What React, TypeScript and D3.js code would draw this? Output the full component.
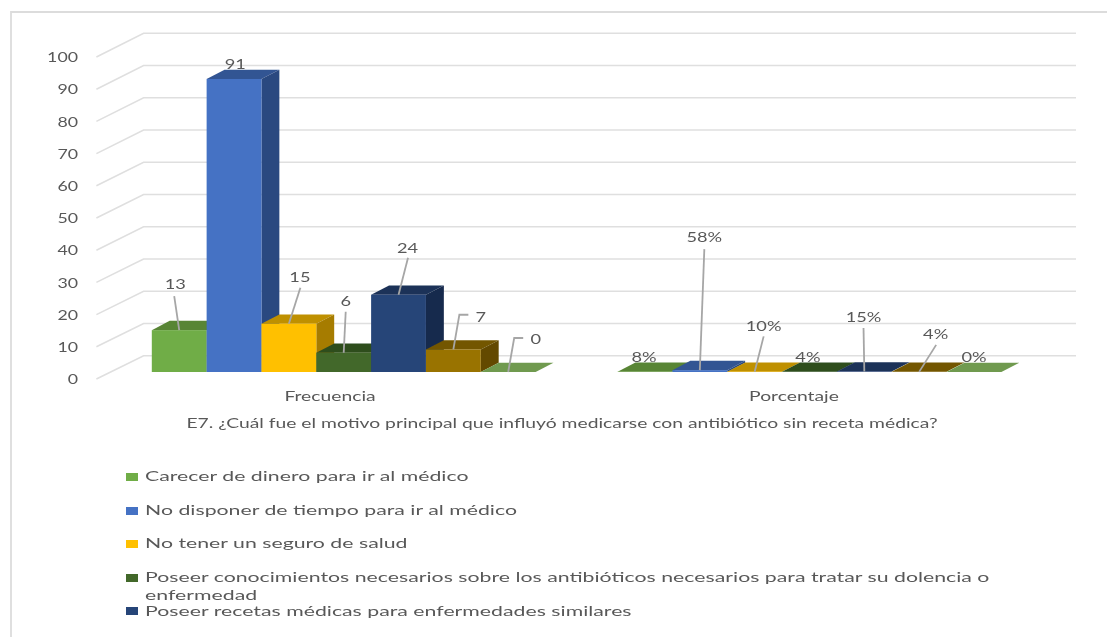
import React from "react";
import * as d3 from "d3";

const categories = ["Frecuencia", "Porcentaje"];
const seriesNames = [
  "Carecer de dinero para ir al médico",
  "No disponer de tiempo para ir al médico",
  "No tener un seguro de salud",
  "Poseer conocimientos necesarios sobre los antibióticos necesarios para tratar su dolencia o",
  "Poseer recetas médicas para enfermedades similares",
  "Otro motivo A",
  "Otro motivo B",
];
const frecuencia = [13, 91, 15, 6, 24, 7, 0];
const porcentaje = [0.08, 0.58, 0.1, 0.04, 0.15, 0.04, 0];
const frecuenciaLabels = ["13", "91", "15", "6", "24", "7", "0"];
const porcentajeLabels = ["8%", "58%", "10%", "4%", "15%", "4%", "0%"];
const yTicks = [0, 10, 20, 30, 40, 50, 60, 70, 80, 90, 100];
const frontColors = ["#70AD47", "#4472C4", "#FFC000", "#43682B", "#264478", "#997300", "#6F9A50"];
const topColors = ["#588536", "#335593", "#BF9000", "#2F4D1F", "#1C3358", "#735600", "#6F9A50"];
const sideColors = ["#4F7A30", "#2A4A80", "#A67C00", "#28421A", "#182C4E", "#634A00", "#5F8A42"];

const title = "E7. ¿Cuál fue el motivo principal que influyó medicarse con antibiótico sin receta médica?";
const legendWrap = "enfermedad";

// Label placement, relative to the top-front-centre of each bar: [label dx, label dy, leader start dx, leader start dy, elbow dx]
const labelPlacement = [
  [
    [-4, -46, -5, -34],
    [1.2, -15, null, null],
    [11, -47, 11.5, -36],
    [2, -52, 2, -41],
    [9, -47, 9.5, -37],
    [27.5, -33.3, 15, -34.7, 6],
    [27.5, -33.3, 15, -34, 6],
  ],
  [
    [-1, -15, null, null],
    [4.5, -133, 4.5, -121],
    [9, -46, 9, -35.3],
    [-1.6, -15, null, null],
    [-0.8, -54.5, -0.8, -43.5],
    [16.5, -38, 17, -27],
    [0, -15, null, null],
  ],
];

const W = 1107;
const H = 637;
const depthX = 17.9;
const depthY = 9.3;
const y = d3.scaleLinear().domain([0, 100]).range([372, 50]);
const yFront = d3.scaleLinear().domain([0, 100]).range([379, 57]);
const yBack = d3.scaleLinear().domain([0, 100]).range([355.7, 33.3]);
const xGroup = d3.scaleBand<string>().domain(categories).range([151.8, 1001.4]).paddingInner(0.176).paddingOuter(0);
const axisLeft = 96.4;
const backLeft = 143.6;
const backRight = 1076;
const line = d3.line();
const poly = (pts: [number, number][]) => line(pts) + "Z";

const TEXT = "#595959";
const FONT = "Lato, 'Open Sans', sans-serif";

function T({ x, y: yy, anchor = "start", size = 13.5, stretch = 1.43, children }: any) {
  return (
    <text
      transform={`translate(${x},${yy}) scale(${stretch},1)`}
      textAnchor={anchor}
      dominantBaseline="central"
      fontFamily={FONT}
      fontSize={size}
      fill={TEXT}
    >
      {children}
    </text>
  );
}

function Group({ gi, values, labels }: { gi: number; values: number[]; labels: string[] }) {
  const x0 = xGroup(categories[gi])!;
  const bw = xGroup.bandwidth();
  const xs = d3.scaleBand<number>().domain(d3.range(values.length)).range([x0, x0 + bw]);
  const w = xs.bandwidth();
  return (
    <g>
      {values.map((v, i) => {
        const l = xs(i)!;
        const r = l + w;
        const t = y(v);
        const b = y(0);
        return (
          <g key={i}>
            <path d={poly([[l, t], [l + depthX, t - depthY], [r + depthX, t - depthY], [r, t]])} fill={topColors[i]} />
            {v > 0.5 && <path d={poly([[r, t], [r + depthX, t - depthY], [r + depthX, b - depthY], [r, b]])} fill={sideColors[i]} />}
            <rect x={l} y={t} width={w} height={b - t} fill={frontColors[i]} />
          </g>
        );
      })}
      {values.map((v, i) => {
        const p = labelPlacement[gi][i] as (number | null)[];
        const cx = xs(i)! + w / 2;
        const cy = y(v);
        if (p[2] == null) return null;
        const pts: [number, number][] = [[cx + p[2]!, cy + p[3]!]];
        if (p[4] != null) pts.push([cx + p[4]!, cy + p[3]!]);
        pts.push([cx, cy]);
        return <path key={i} d={line(pts)!} fill="none" stroke="#A6A6A6" strokeWidth={1.8} />;
      })}
      {values.map((v, i) => {
        const p = labelPlacement[gi][i] as (number | null)[];
        const cx = xs(i)! + w / 2;
        return (
          <T key={i} x={cx + p[0]!} y={y(v) + p[1]!} anchor="middle" size={13} stretch={1.4}>
            {labels[i]}
          </T>
        );
      })}
      <T x={x0 + bw / 2 + (gi === 0 ? -13.7 : -15.5)} y={396} anchor="middle">
        {categories[gi]}
      </T>
    </g>
  );
}

const legendY = [477, 511, 544, 578, 611];

export default function App() {
  return (
    <svg width={W} height={H} viewBox={`0 0 ${W} ${H}`} style={{ position: "absolute", left: 0, top: 0, background: "#fff" }}>
      <defs>
        <filter id="soft" x="-2%" y="-2%" width="104%" height="104%">
          <feGaussianBlur stdDeviation="0.35" />
        </filter>
      </defs>
      <g filter="url(#soft)">
        <path d={`M11,${H}V12H${W}`} fill="none" stroke="#DCDCDC" strokeWidth={1.8} />
        {yTicks.map((t) => (
          <g key={t}>
            <path
              d={line([[axisLeft, yFront(t)], [backLeft, yBack(t)], [backRight, yBack(t)]])!}
              fill="none"
              stroke="#DFDFDF"
              strokeWidth={1.6}
            />
            <T x={78} y={yFront(t) + 0.3} anchor="end" size={12.5} stretch={1.42}>
              {t}
            </T>
          </g>
        ))}
        <Group gi={0} values={frecuencia} labels={frecuenciaLabels} />
        <Group gi={1} values={porcentaje} labels={porcentajeLabels} />
        <T x={562} y={423} anchor="middle">
          {title}
        </T>
        {legendY.map((ly, i) => (
          <g key={i}>
            <rect x={126} y={ly - 4} width={12} height={8} fill={frontColors[i]} />
            <T x={145} y={ly - 1 + (i === 4 ? 1 : 0)} size={14} stretch={1.52}>
              {seriesNames[i]}
            </T>
          </g>
        ))}
        <T x={145} y={595} size={14} stretch={1.52}>
          {legendWrap}
        </T>
      </g>
    </svg>
  );
}
